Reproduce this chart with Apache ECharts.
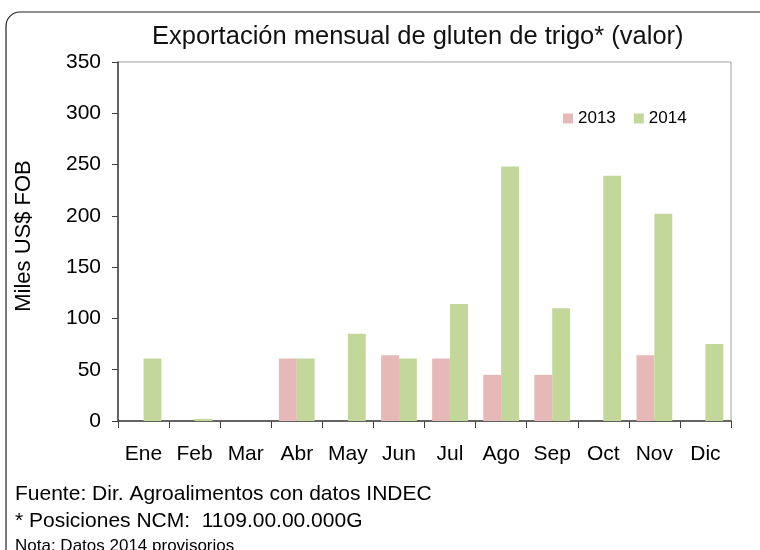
<!DOCTYPE html>
<html>
<head>
<meta charset="utf-8">
<script src="https://cdn.jsdelivr.net/npm/echarts@6/dist/echarts.min.js"></script>
<style>
  html, body { margin: 0; padding: 0; background: #fff; }
  #chart { width: 760px; height: 550px; }
</style>
</head>
<body>
<div id="chart"></div>
<script>
// datos mensuales (miles US$ FOB)
var months = ['Ene', 'Feb', 'Mar', 'Abr', 'May', 'Jun', 'Jul', 'Ago', 'Sep', 'Oct', 'Nov', 'Dic'];
var values2013 = [0, 0, 0, 61, 0, 64, 61, 45, 45, 0, 64, 0];
var values2014 = [61, 2, 0, 61, 85, 61, 114, 248, 110, 239, 202, 75];
var yTicks = [0, 50, 100, 150, 200, 250, 300, 350];

var font = 'Arial, "Liberation Sans", sans-serif';

var chart = echarts.init(document.getElementById('chart'));
var option = {
    animation: false,
    backgroundColor: '#fff',
    textStyle: { fontFamily: font, color: '#000' },
    title: {
        text: 'Exportación mensual de gluten de trigo* (valor)',
        left: 147,
        top: 19,
        textStyle: { fontFamily: font, fontSize: 25.5, fontWeight: 'normal', color: '#111' }
    },
    legend: {
        data: ['2013', '2014'],
        left: 558,
        top: 105,
        icon: 'rect',
        itemWidth: 10,
        itemHeight: 10,
        itemGap: 18,
        textStyle: { fontFamily: font, fontSize: 17, color: '#000' }
    },
    grid: {
        left: 118,
        top: 62,
        right: 29,
        bottom: 129,
        show: true,
        borderColor: '#a0a0a0',
        borderWidth: 1
    },
    xAxis: {
        type: 'category',
        data: months,
        axisLine: { lineStyle: { color: '#404040', width: 1.5 } },
        axisTick: { show: true, length: 7, lineStyle: { color: '#404040' } },
        axisLabel: { fontFamily: font, fontSize: 21, color: '#000', margin: 23, interval: 0 }
    },
    yAxis: {
        type: 'value',
        min: yTicks[0],
        max: yTicks[yTicks.length - 1],
        interval: yTicks[1] - yTicks[0],
        axisLine: { show: true, lineStyle: { color: '#404040', width: 1.5 } },
        axisTick: { show: true, length: 6, lineStyle: { color: '#404040' } },
        axisLabel: { fontFamily: font, fontSize: 21, color: '#000', margin: 17 },
        splitLine: { show: false }
    },
    series: [
        {
            name: '2013',
            type: 'bar',
            data: values2013,
            barGap: '0%',
            barCategoryGap: '30%',
            itemStyle: { color: '#e6b9b8' }
        },
        {
            name: '2014',
            type: 'bar',
            data: values2014,
            barGap: '0%',
            barCategoryGap: '30%',
            itemStyle: { color: '#c4d79b' }
        }
    ],
    graphic: [
        {
            type: 'rect',
            shape: { x: 6, y: 12, width: 800, height: 560, r: 14 },
            style: { fill: null, stroke: '#222', lineWidth: 1.2 },
            silent: true
        },
        {
            // titulo del eje Y
            type: 'text',
            x: 24,
            y: 236,
            rotation: Math.PI / 2,
            style: {
                text: 'Miles US$ FOB',
                font: '22px ' + font,
                fill: '#000',
                align: 'center',
                verticalAlign: 'middle'
            }
        },
        {
            type: 'text',
            left: 15,
            top: 484,
            style: { text: 'Fuente: Dir. Agroalimentos con datos INDEC', font: '21px ' + font, fill: '#000' }
        },
        {
            type: 'text',
            left: 15,
            top: 511,
            style: { text: '* Posiciones NCM:  1109.00.00.000G', font: '21px ' + font, fill: '#000' }
        },
        {
            type: 'text',
            left: 15,
            top: 538,
            style: { text: 'Nota: Datos 2014 provisorios', font: '17px ' + font, fill: '#000' }
        }
    ]
};
chart.setOption(option);
</script>
</body>
</html>
